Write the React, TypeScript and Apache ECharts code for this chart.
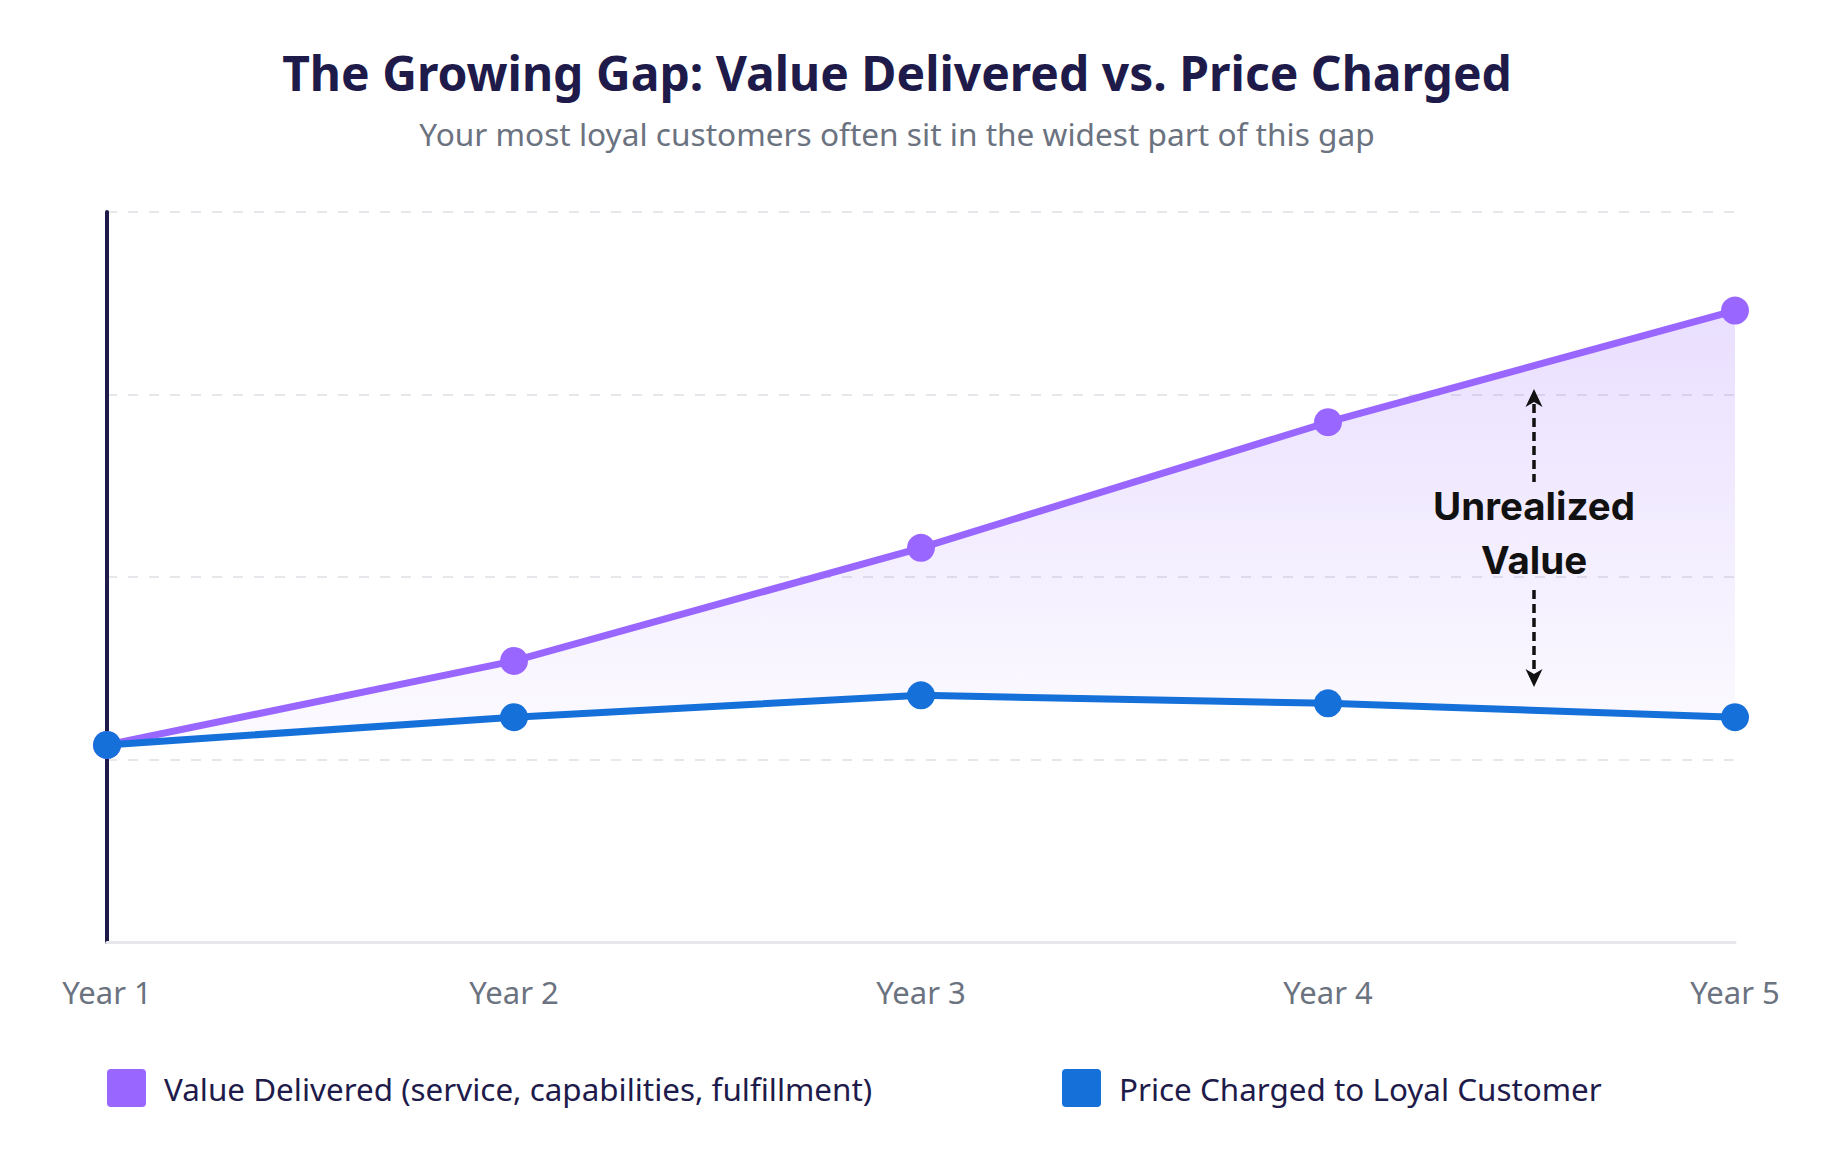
import React, { useEffect, useRef } from "react";
import * as echarts from "echarts";

const years = ["Year 1", "Year 2", "Year 3", "Year 4", "Year 5"];
const valueDelivered = [27, 38.5, 54, 71.2, 86.5];
const priceCharged = [27, 30.8, 33.8, 32.7, 30.8];

const valueName = "Value Delivered (service, capabilities, fulfillment)";
const priceName = "Price Charged to Loyal Customer";
const titleText = "The Growing Gap: Value Delivered vs. Price Charged";
const subtitleText = "Your most loyal customers often sit in the widest part of this gap";
const annotationLines = ["Unrealized", "Value"];

const PURPLE = "#9966ff";
const BLUE = "#1570d9";
const NAVY = "#1e1b4b";
const GRAY = "#6b7280";
const FONT = "'Noto Sans', 'Open Sans', sans-serif";

const legendIcon =
  "path://M4,0H35Q39,0,39,4V34Q39,38,35,38H4Q0,38,0,34V4Q0,0,4,0Z";

export default function App() {
  const ref = useRef<HTMLDivElement>(null);

  useEffect(() => {
    document.body.style.margin = "0";
    if (!ref.current) return;
    const chart = echarts.init(ref.current, undefined, { renderer: "svg" });

    const gap = valueDelivered.map((v, i) => v - priceCharged[i]);

    const ax = 1534;
    const dash = [9, 5];

    chart.setOption({
      animation: false,
      backgroundColor: "#ffffff",
      title: [
        {
          text: titleText,
          left: 897,
          top: 42,
          padding: 0,
          textAlign: "center",
          textStyle: {
            fontFamily: FONT,
            fontSize: 48,
            fontWeight: "bold",
            color: NAVY,
            lineHeight: 60,
          },
        },
        {
          text: subtitleText,
          left: 897,
          top: 113,
          padding: 0,
          textAlign: "center",
          textStyle: {
            fontFamily: FONT,
            fontSize: 31.6,
            fontWeight: "normal",
            color: GRAY,
            lineHeight: 40,
          },
        },
      ],
      legend: [
        {
          data: [valueName],
          left: 107,
          top: 1069,
          padding: 0,
          icon: legendIcon,
          itemWidth: 39,
          itemHeight: 38,
          selectedMode: false,
          textStyle: {
            fontFamily: FONT,
            fontSize: 31.4,
            color: NAVY,
            padding: [0, 0, 0, 13],
          },
        },
        {
          data: [priceName],
          left: 1062,
          top: 1069,
          padding: 0,
          icon: legendIcon,
          itemWidth: 39,
          itemHeight: 38,
          selectedMode: false,
          textStyle: {
            fontFamily: FONT,
            fontSize: 31.4,
            color: NAVY,
            padding: [0, 0, 0, 13],
          },
        },
      ],
      grid: { left: 107, right: 109, top: 212, bottom: 216 },
      xAxis: {
        type: "category",
        data: years,
        boundaryGap: false,
        axisLine: { show: true, lineStyle: { color: "#e5e7eb", width: 3 } },
        axisTick: { show: false },
        splitLine: { show: false },
        axisLabel: {
          fontFamily: FONT,
          fontSize: 31,
          color: GRAY,
          margin: 34,
        },
      },
      yAxis: {
        type: "value",
        min: 0,
        max: 100,
        interval: 25,
        axisLabel: { show: false },
        axisTick: { show: false },
        axisLine: { show: true, lineStyle: { color: NAVY, width: 4 } },
        splitLine: {
          show: true,
          lineStyle: { color: "#e5e7eb", width: 2, type: [10, 11] },
        },
      },
      series: [
        {
          name: "gapBase",
          type: "line",
          data: priceCharged,
          stack: "gap",
          symbol: "none",
          lineStyle: { opacity: 0 },
          silent: true,
          z: 1,
        },
        {
          name: "gapFill",
          type: "line",
          data: gap,
          stack: "gap",
          symbol: "none",
          lineStyle: { opacity: 0 },
          silent: true,
          z: 1,
          areaStyle: {
            color: new echarts.graphic.LinearGradient(0, 0, 0, 1, [
              { offset: 0, color: "rgba(153,102,255,0.3)" },
              { offset: 1, color: "rgba(153,102,255,0.04)" },
            ]),
          },
        },
        {
          name: valueName,
          type: "line",
          data: valueDelivered,
          color: PURPLE,
          symbol: "circle",
          symbolSize: 28,
          showSymbol: true,
          lineStyle: { color: PURPLE, width: 7 },
          itemStyle: { color: PURPLE },
          z: 3,
        },
        {
          name: priceName,
          type: "line",
          data: priceCharged,
          color: BLUE,
          symbol: "circle",
          symbolSize: 28,
          showSymbol: true,
          lineStyle: { color: BLUE, width: 7 },
          itemStyle: { color: BLUE },
          z: 4,
        },
      ],
      graphic: [
        {
          type: "line",
          z: 10,
          shape: { x1: ax, y1: 404, x2: ax, y2: 482 },
          style: { stroke: "#111111", lineWidth: 3.5, lineDash: dash },
        },
        {
          type: "polygon",
          z: 10,
          shape: {
            points: [
              [ax, 389],
              [ax + 8.5, 407],
              [ax, 402],
              [ax - 8.5, 407],
            ],
          },
          style: { fill: "#111111" },
        },
        {
          type: "line",
          z: 10,
          shape: { x1: ax, y1: 590, x2: ax, y2: 672 },
          style: { stroke: "#111111", lineWidth: 3.5, lineDash: dash },
        },
        {
          type: "polygon",
          z: 10,
          shape: {
            points: [
              [ax, 687],
              [ax + 8.5, 669],
              [ax, 674],
              [ax - 8.5, 669],
            ],
          },
          style: { fill: "#111111" },
        },
        {
          type: "text",
          z: 10,
          x: ax,
          y: 506,
          style: {
            text: annotationLines[0],
            fontFamily: "Inter, 'Noto Sans', sans-serif",
            fontWeight: "bold",
            fontSize: 38.5,
            fill: "#111111",
            align: "center",
            verticalAlign: "middle",
          },
        },
        {
          type: "text",
          z: 10,
          x: ax,
          y: 560,
          style: {
            text: annotationLines[1],
            fontFamily: "Inter, 'Noto Sans', sans-serif",
            fontWeight: "bold",
            fontSize: 38.5,
            fill: "#111111",
            align: "center",
            verticalAlign: "middle",
          },
        },
      ],
    });

    return () => chart.dispose();
  }, []);

  return <div ref={ref} style={{ width: "1844px", height: "1158px" }} />;
}
